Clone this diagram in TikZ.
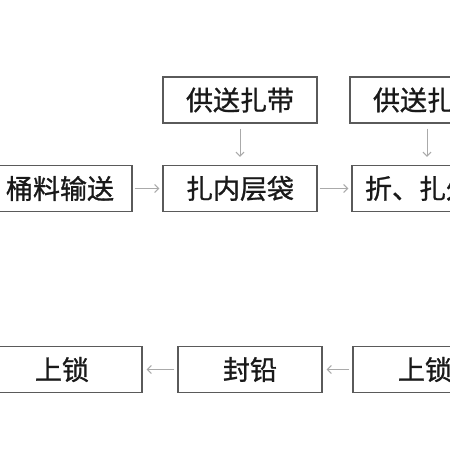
\documentclass[tikz,border=0pt]{standalone}
\usepackage{fontspec}
\newfontfamily\cjk[FakeBold=1]{Noto Sans CJK SC}
\usepackage{tikz}
\usetikzlibrary{arrows.meta}
\usepackage{xcolor}
\definecolor{boxgray}{RGB}{90,90,90}
\definecolor{arrgray}{RGB}{170,170,170}
\definecolor{txtdark}{RGB}{25,25,25}

\tikzset{
  stepbox/.style={draw=boxgray, line width=1.4pt, minimum width=154pt, minimum height=46pt,
    inner sep=0pt, text=txtdark, font=\cjk\fontsize{27}{27}\selectfont},
  lowbox/.style={stepbox, minimum width=144pt},
  flow/.style={draw=arrgray, line width=1pt, -{Straight Barb[length=4pt,width=8pt]}}
}

\begin{document}
\begin{tikzpicture}[x=1pt, y=-1pt]
  \useasboundingbox (0,0) rectangle (450,450);
  \clip (0,0) rectangle (450,450);
  % upper row
  \node[stepbox] (feedA) at (240,100) {供送扎带};
  \node[stepbox] (feedB) at (427,100) {供送扎带};
  \node[lowbox] (convey) at (60,188.5) {桶料输送};
  \node[stepbox] (tieinner) at (240,188.5) {扎内层袋};
  \node[stepbox, minimum width=188pt] (tieouter) at (446,188.5) {折、扎外层袋};
  % lower row
  \node[lowbox, minimum width=160pt] (lockA) at (62,369.5) {上锁};
  \node[lowbox] (seal) at (250,369.5) {封铅};
  \node[lowbox] (lockB) at (425,369.5) {上锁};
  % connectors
  \draw[flow, shorten <=5pt, shorten >=8pt] (feedA) -- (tieinner);
  \draw[flow, shorten <=5pt, shorten >=8pt] (feedB.south) -- (feedB.south |- tieouter.north);
  \draw[flow, shorten <=2pt, shorten >=3pt] (convey) -- (tieinner);
  \draw[flow, shorten <=2pt, shorten >=3pt] (tieinner) -- (tieouter);
  \draw[flow, shorten <=3pt, shorten >=4pt] (seal) -- (lockA);
  \draw[flow, shorten <=3pt, shorten >=4pt] (lockB) -- (seal);
\end{tikzpicture}
\end{document}
